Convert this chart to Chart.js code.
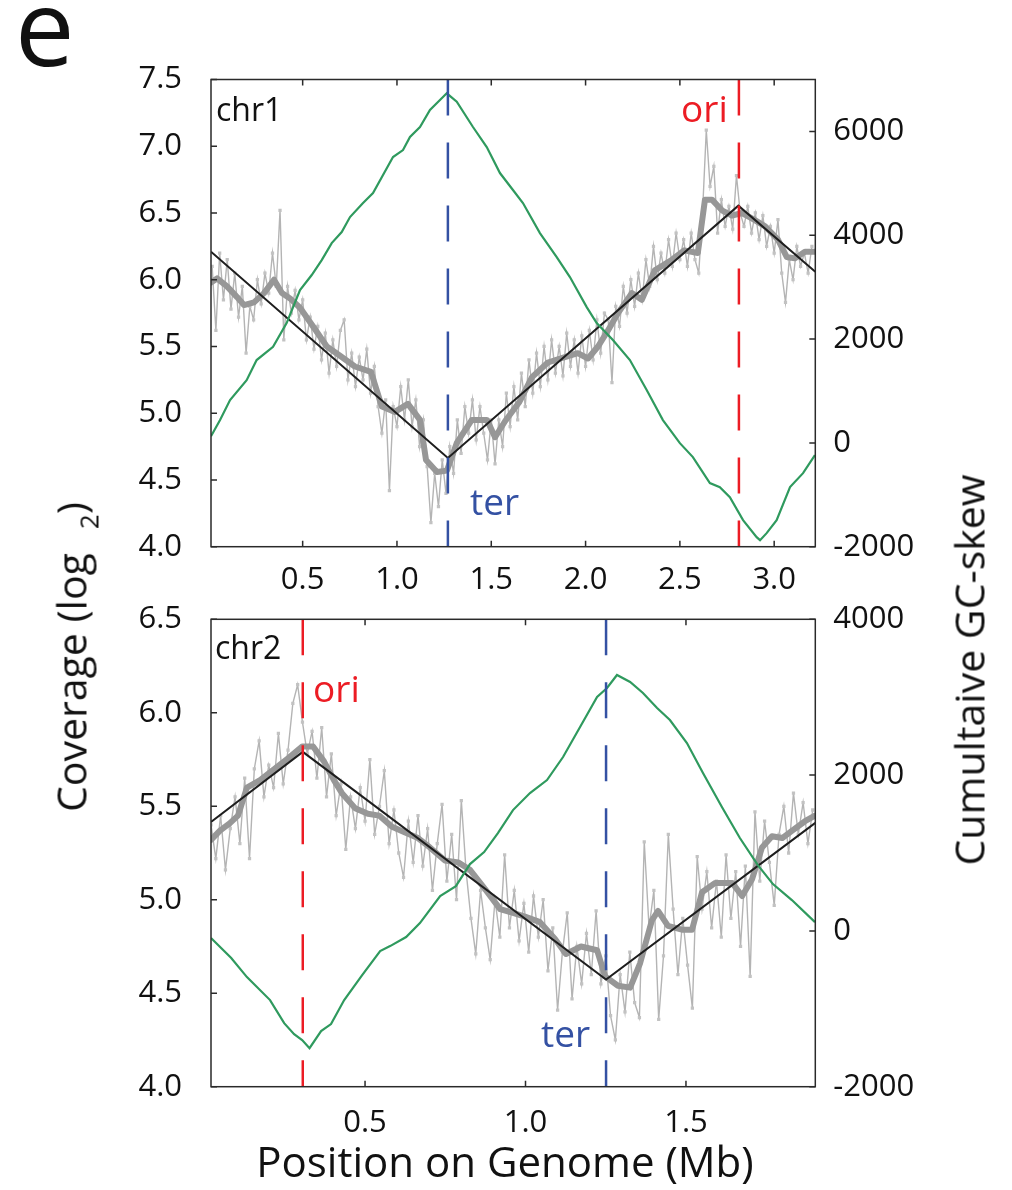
<!DOCTYPE html>
<html><head><meta charset="utf-8">
<script src="https://cdn.jsdelivr.net/npm/chart.js@4.4.1/dist/chart.umd.min.js"></script>
<style>
html,body{margin:0;padding:0;background:#fff;}
#wrap{position:relative;width:1012px;height:1190px;overflow:hidden;font-family:'Open Sans',sans-serif;color:#111;}
canvas{position:absolute;left:0;}
.t{position:absolute;white-space:nowrap;line-height:1;}
.rot{position:absolute;white-space:nowrap;line-height:1;font-size:41px;transform:translate(-50%,-50%) rotate(-90deg);}
.sub{font-size:26px;margin-left:24px;vertical-align:-12px;}
</style></head><body>
<div id="wrap">
<canvas id="c1" width="1012" height="595" style="top:0"></canvas>
<canvas id="c2" width="1012" height="630" style="top:560px"></canvas>
<div class="t" style="left:15px;top:-28px;font-size:106px;">e</div>
<div class="t" style="left:216px;top:93px;font-size:32px;">chr1</div>
<div class="t" style="left:681px;top:89px;font-size:37px;color:#ec1c24;">ori</div>
<div class="t" style="left:470px;top:482px;font-size:37px;color:#3451a3;">ter</div>
<div class="t" style="left:215px;top:631px;font-size:32px;">chr2</div>
<div class="t" style="left:313px;top:669px;font-size:37px;color:#ec1c24;">ori</div>
<div class="t" style="left:541px;top:1014px;font-size:37px;color:#3451a3;">ter</div>
<div class="rot" style="left:76px;top:657px;">Coverage (log<span class="sub">2</span>)</div>
<div class="rot" style="left:969px;top:670px;">Cumultaive GC-skew</div>
<div class="t" style="left:505px;top:1140px;font-size:42px;transform:translateX(-50%);">Position on Genome (Mb)</div>
</div>
<script>
// ---------- chr1 ----------
const chr1Pos = [
0.02,0.04,0.06,0.08,0.10,0.12,0.14,0.16,0.18,0.20,
0.22,0.24,0.26,0.28,0.30,0.32,0.34,0.36,0.38,0.40,
0.42,0.44,0.46,0.48,0.50,0.52,0.54,0.56,0.58,0.60,
0.62,0.64,0.66,0.68,0.70,0.72,0.74,0.76,0.78,0.80,
0.82,0.84,0.86,0.88,0.90,0.92,0.94,0.96,0.98,1.00,
1.02,1.04,1.06,1.08,1.10,1.12,1.14,1.16,1.18,1.20,
1.22,1.24,1.26,1.28,1.30,1.32,1.34,1.36,1.38,1.40,
1.42,1.44,1.46,1.48,1.50,1.52,1.54,1.56,1.58,1.60,
1.62,1.64,1.66,1.68,1.70,1.72,1.74,1.76,1.78,1.80,
1.82,1.84,1.86,1.88,1.90,1.92,1.94,1.96,1.98,2.00,
2.02,2.04,2.06,2.08,2.10,2.12,2.14,2.16,2.18,2.20,
2.22,2.24,2.26,2.28,2.30,2.32,2.34,2.36,2.38,2.40,
2.42,2.44,2.46,2.48,2.50,2.52,2.54,2.56,2.58,2.60,
2.62,2.64,2.66,2.68,2.70,2.72,2.74,2.76,2.78,2.80,
2.82,2.84,2.86,2.88,2.90,2.92,2.94,2.96,2.98,3.00,
3.02,3.04,3.06,3.08,3.10,3.12,3.14,3.16,3.18,3.20];
const chr1Cov = [
6.10,5.62,6.20,5.85,6.15,5.78,6.05,5.72,5.95,5.45,
5.80,5.70,6.00,5.82,6.05,5.90,6.20,5.95,6.52,5.55,
5.95,5.75,5.92,5.70,5.85,5.55,5.72,5.48,5.65,5.40,
5.60,5.30,5.55,5.35,5.62,5.70,5.25,5.45,5.20,5.42,
5.25,5.48,5.15,5.35,5.05,4.85,5.10,4.42,5.05,4.90,
5.20,4.95,5.25,4.90,5.10,4.75,4.95,4.60,4.18,4.55,
4.30,4.65,4.40,4.75,4.55,4.95,4.70,5.05,4.85,5.10,
4.80,5.05,4.85,4.65,4.95,4.62,4.95,4.75,5.15,4.90,
5.20,4.95,5.30,5.05,5.40,5.15,5.45,5.20,5.50,5.25,
5.55,5.30,5.50,5.28,5.60,5.35,5.55,5.30,5.58,5.35,
5.62,5.40,5.70,5.45,5.75,5.70,5.23,5.80,5.65,5.95,
5.75,6.00,5.80,6.05,5.85,6.15,5.95,6.25,6.00,6.20,
6.05,6.30,6.10,6.35,6.15,6.30,6.10,6.35,6.15,6.05,
6.50,7.12,6.70,6.85,6.35,6.60,6.40,6.55,6.38,6.78,
6.50,6.40,6.55,6.35,6.50,6.30,6.48,6.25,6.40,6.20,
6.45,6.05,5.83,6.15,6.00,6.25,6.10,6.20,6.05,6.25];
const chr1SmoothPos = [0.014,0.046,0.099,0.152,0.189,0.242,0.295,0.348,0.390,0.433,0.486,0.560,0.628,0.698,0.777,0.862,0.920,0.989,1.058,1.122,1.154,1.212,1.265,1.318,1.397,1.477,1.520,1.573,1.647,1.716,1.800,1.890,1.959,2.013,2.066,2.119,2.172,2.245,2.298,2.367,2.458,2.523,2.595,2.633,2.670,2.723,2.776,2.829,2.882,2.952,3.020,3.067,3.110,3.163,3.216];
const chr1Smooth = [5.98,6.01,5.95,5.87,5.81,5.83,5.90,6.00,5.90,5.86,5.79,5.64,5.50,5.43,5.35,5.31,5.05,5.01,5.07,4.95,4.65,4.56,4.57,4.78,4.95,4.95,4.82,4.94,5.08,5.27,5.38,5.42,5.45,5.41,5.50,5.62,5.75,5.90,5.85,6.07,6.15,6.22,6.20,6.60,6.60,6.52,6.48,6.50,6.46,6.40,6.30,6.17,6.16,6.21,6.21];
const chr1FitPos = [0.014,1.270,2.810,3.218];
const chr1Fit = [6.21,4.665,6.555,6.06];
const chr1GcPos = [0.014,0.062,0.115,0.203,0.256,0.343,0.415,0.486,0.548,0.601,0.654,0.707,0.751,0.820,0.873,0.979,1.032,1.069,1.122,1.175,1.228,1.264,1.317,1.403,1.476,1.546,1.615,1.668,1.758,1.847,1.917,2.006,2.059,2.145,2.235,2.324,2.410,2.500,2.569,2.659,2.712,2.765,2.835,2.907,2.925,2.960,3.013,3.084,3.153,3.216];
const chr1Gc = [130,439,824,1209,1595,1851,2308,2944,3233,3522,3849,4061,4350,4620,4813,5507,5641,5892,6085,6412,6605,6734,6572,6085,5699,5198,4871,4620,4042,3580,3194,2616,2308,1980,1595,1017,439,-5,-274,-775,-852,-1045,-1488,-1816,-1874,-1739,-1488,-852,-583,-236];
const chr1Ter = 1.270, chr1Ori = 2.813;
const chr1XRange = [0.014, 3.218];
const chr1CovRange = [4.0, 7.5];
const chr1GcRange = [-2000, 7000];
const chr1XTicks = [0.5,1.0,1.5,2.0,2.5,3.0];
const chr1CovTicks = [4.0,4.5,5.0,5.5,6.0,6.5,7.0,7.5];
const chr1GcTicks = [-2000,0,2000,4000,6000];

// ---------- chr2 ----------
const chr2Pos = [
0.020,0.035,0.050,0.065,0.080,0.095,0.110,0.125,0.140,0.155,
0.170,0.185,0.200,0.215,0.230,0.245,0.260,0.275,0.290,0.305,
0.320,0.335,0.350,0.365,0.380,0.395,0.410,0.425,0.440,0.455,
0.470,0.485,0.500,0.515,0.530,0.545,0.560,0.575,0.590,0.605,
0.620,0.635,0.650,0.665,0.680,0.695,0.710,0.725,0.740,0.755,
0.770,0.785,0.800,0.815,0.830,0.845,0.860,0.875,0.890,0.905,
0.920,0.935,0.950,0.965,0.980,0.995,1.010,1.025,1.040,1.055,
1.070,1.085,1.100,1.115,1.130,1.145,1.160,1.175,1.190,1.205,
1.220,1.235,1.250,1.265,1.280,1.295,1.310,1.325,1.340,1.355,
1.370,1.385,1.400,1.415,1.430,1.445,1.460,1.475,1.490,1.505,
1.520,1.535,1.550,1.565,1.580,1.595,1.610,1.625,1.640,1.655,
1.670,1.685,1.700,1.715,1.730,1.745,1.760,1.775,1.790,1.805,
1.820,1.835,1.850,1.865,1.880,1.895];
const chr2Cov = [
5.40,5.22,5.45,5.16,5.38,5.55,5.30,5.65,5.22,5.70,
5.85,5.55,5.72,5.60,5.89,5.62,5.80,6.05,6.15,5.95,
5.78,5.90,5.65,5.92,5.55,5.78,5.45,5.62,5.27,5.55,
5.38,5.60,5.42,5.75,5.35,5.50,5.69,5.30,5.48,5.25,
5.12,5.42,5.20,5.45,5.18,5.38,5.05,5.30,5.51,5.10,
5.35,5.00,5.53,5.15,4.90,4.71,5.05,4.85,4.68,5.00,
4.80,5.24,4.85,5.05,4.78,4.98,4.72,5.02,4.80,5.00,
4.62,4.85,4.41,4.72,4.93,4.47,4.75,4.55,4.82,4.60,
4.94,4.55,4.70,4.38,4.25,4.60,4.40,4.72,4.45,4.37,
5.31,4.85,5.05,4.36,4.70,5.35,4.95,4.60,4.90,4.65,
4.42,5.23,4.95,5.15,4.85,5.10,4.80,5.24,4.90,5.15,
4.75,5.18,4.59,5.47,5.10,5.42,5.20,4.97,5.35,5.50,
5.25,5.57,5.35,5.52,5.30,5.48];
const chr2SmoothPos = [0.020,0.048,0.079,0.104,0.132,0.173,0.210,0.263,0.304,0.338,0.372,0.403,0.428,0.469,0.509,0.544,0.584,0.625,0.665,0.702,0.749,0.790,0.827,0.877,0.921,0.961,0.998,1.045,1.092,1.126,1.173,1.223,1.248,1.288,1.326,1.357,1.394,1.413,1.444,1.487,1.519,1.550,1.591,1.644,1.675,1.706,1.737,1.768,1.800,1.831,1.871,1.902];
const chr2Smooth = [5.32,5.37,5.41,5.45,5.60,5.64,5.69,5.76,5.82,5.82,5.74,5.64,5.57,5.49,5.46,5.45,5.39,5.36,5.33,5.28,5.21,5.20,5.16,5.05,4.95,4.93,4.91,4.88,4.79,4.71,4.75,4.73,4.59,4.54,4.53,4.66,4.89,4.94,4.86,4.84,4.84,5.04,5.09,5.09,5.02,5.11,5.28,5.34,5.33,5.37,5.42,5.45];
const chr2FitPos = [0.020,0.306,1.251,1.903];
const chr2Fit = [5.416,5.791,4.573,5.411];
const chr2GcPos = [0.020,0.083,0.132,0.204,0.248,0.279,0.304,0.327,0.363,0.394,0.435,0.491,0.547,0.578,0.628,0.671,0.734,0.783,0.827,0.871,0.914,0.961,1.014,1.067,1.117,1.170,1.223,1.254,1.285,1.326,1.366,1.410,1.450,1.503,1.553,1.612,1.668,1.724,1.771,1.830,1.902];
const chr2Gc = [-92,-349,-593,-888,-1184,-1325,-1402,-1505,-1286,-1196,-888,-567,-259,-195,-79,100,447,575,858,1012,1256,1551,1770,1937,2232,2617,3002,3118,3285,3195,3054,2861,2707,2412,2026,1590,1192,845,601,396,113];
const chr2Ter = 1.251, chr2Ori = 0.306;
const chr2XRange = [0.020, 1.903];
const chr2CovRange = [4.0, 6.5];
const chr2GcRange = [-2000, 4000];
const chr2XTicks = [0.5,1.0,1.5];
const chr2CovTicks = [4.0,4.5,5.0,5.5,6.0,6.5];
const chr2GcTicks = [-2000,0,2000,4000];

// ---------- styling ----------
const FONT = "'Open Sans', sans-serif";
const COL = {raw:'#b4b4b4', rawPt:'#c2c2c2', smooth:'#979797', fit:'#1e1e1e', gc:'#2f9a5e', ter:'#3451a3', ori:'#ec1c24'};

function pts(xs, ys){ return xs.map((x,i)=>({x:x, y:ys[i]})); }

const framePlugin = {
  id:'frame',
  afterDatasetsDraw(chart){
    const {ctx, chartArea:a, scales} = chart;
    ctx.save();
    ctx.strokeStyle = '#2a2a2a';
    ctx.lineWidth = 1.5;
    ctx.strokeRect(a.left, a.top, a.right-a.left, a.bottom-a.top);
    const L = 6;
    ctx.beginPath();
    scales.x.ticks.forEach(t=>{ const p=scales.x.getPixelForValue(t.value);
      ctx.moveTo(p,a.bottom); ctx.lineTo(p,a.bottom-L); ctx.moveTo(p,a.top); ctx.lineTo(p,a.top+L); });
    scales.y.ticks.forEach(t=>{ const p=scales.y.getPixelForValue(t.value);
      ctx.moveTo(a.left,p); ctx.lineTo(a.left+L,p); });
    scales.y2.ticks.forEach(t=>{ const p=scales.y2.getPixelForValue(t.value);
      ctx.moveTo(a.right,p); ctx.lineTo(a.right-L,p); });
    ctx.stroke();
    ctx.restore();
  }
};

function makeChart(id, o){
  const tickFont = {family:FONT, size:31};
  return new Chart(document.getElementById(id), {
    type:'line',
    data:{datasets:[
      {data:[{x:o.ter,y:o.covR[1]},{x:o.ter,y:o.covR[0]}], borderColor:COL.ter, borderWidth:2.5, borderDash:[36,27], pointRadius:0, yAxisID:'y', order:0},
      {data:[{x:o.ori,y:o.covR[1]},{x:o.ori,y:o.covR[0]}], borderColor:COL.ori, borderWidth:2.5, borderDash:[36,27], pointRadius:0, yAxisID:'y', order:0},
      {data:pts(o.gcPos,o.gc), borderColor:COL.gc, borderWidth:2.2, pointRadius:0, yAxisID:'y2', order:1},
      {data:pts(o.fitPos,o.fit), borderColor:COL.fit, borderWidth:2, pointRadius:0, yAxisID:'y', order:2},
      {data:pts(o.smPos,o.sm), borderColor:COL.smooth, borderWidth:6, pointRadius:0, yAxisID:'y', order:3, borderJoinStyle:'round', borderCapStyle:'round'},
      {data:pts(o.pos,o.cov), borderColor:COL.raw, borderWidth:1.4, pointRadius:2.3, pointStyle:'rect', pointBackgroundColor:COL.rawPt, pointBorderWidth:0, yAxisID:'y', order:4}
    ]},
    options:{
      responsive:false, animation:false, devicePixelRatio:1,
      layout:{padding:{top:o.top,left:0,right:0,bottom:0}},
      plugins:{legend:{display:false}, tooltip:{enabled:false}},
      elements:{line:{tension:0}},
      scales:{
        x:{type:'linear', min:o.xR[0], max:o.xR[1], grid:{display:false}, border:{display:false},
           afterBuildTicks:s=>{ s.ticks = o.xT.map(v=>({value:v})); },
           afterFit:s=>{ s.height = o.xH; },
           ticks:{font:tickFont, color:'#111', padding:o.xPad, maxRotation:0, autoSkip:false, callback:v=>Number(v).toFixed(1)}},
        y:{type:'linear', position:'left', min:o.covR[0], max:o.covR[1], grid:{display:false}, border:{display:false},
           afterBuildTicks:s=>{ s.ticks = o.covT.map(v=>({value:v})); },
           afterFit:s=>{ s.width = 211; },
           ticks:{font:tickFont, color:'#111', padding:21, callback:v=>Number(v).toFixed(1)}},
        y2:{type:'linear', position:'right', min:o.gcR[0], max:o.gcR[1], grid:{display:false}, border:{display:false},
           afterBuildTicks:s=>{ s.ticks = o.gcT.map(v=>({value:v})); },
           afterFit:s=>{ s.width = 1012-815.3; },
           ticks:{font:tickFont, color:'#111', padding:10, callback:v=>String(v)}}
      }
    },
    plugins:[framePlugin]
  });
}

makeChart('c1', {pos:chr1Pos, cov:chr1Cov, smPos:chr1SmoothPos, sm:chr1Smooth, fitPos:chr1FitPos, fit:chr1Fit,
  gcPos:chr1GcPos, gc:chr1Gc, ter:chr1Ter, ori:chr1Ori, xR:chr1XRange, covR:chr1CovRange, gcR:chr1GcRange,
  xT:chr1XTicks, covT:chr1CovTicks, gcT:chr1GcTicks, top:79.5, xH:595-546.7, xPad:7});
makeChart('c2', {pos:chr2Pos, cov:chr2Cov, smPos:chr2SmoothPos, sm:chr2Smooth, fitPos:chr2FitPos, fit:chr2Fit,
  gcPos:chr2GcPos, gc:chr2Gc, ter:chr2Ter, ori:chr2Ori, xR:chr2XRange, covR:chr2CovRange, gcR:chr2GcRange,
  xT:chr2XTicks, covT:chr2CovTicks, gcT:chr2GcTicks, top:619.3-560, xH:630-(1086.7-560), xPad:10});
</script>
</body></html>
